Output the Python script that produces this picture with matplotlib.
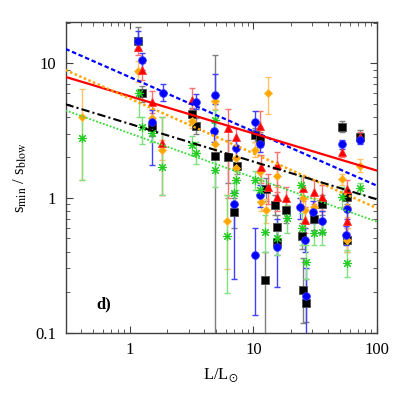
import numpy as np
import matplotlib
matplotlib.use("Agg")
import matplotlib.pyplot as plt
from matplotlib.ticker import LogLocator, NullFormatter, FixedLocator, FixedFormatter

plt.rcParams['font.family'] = ['Liberation Serif', 'DejaVu Serif']
plt.rcParams['mathtext.fontset'] = 'stix'

# ---------------- data (L/Lsun, s_min/s_blow, lower bar end, upper bar end) -------------
blue_L  = [1.15, 1.24, 1.5, 1.84, 3.4, 4.9, 4.8, 6.9, 7.2, 10.3, 11.2, 11.3, 10.3, 15.4, 23.8, 26.5, 26.0, 30.5, 35.7, 52, 56, 57, 73]
blue_s  = [14.8, 10.6, 3.69, 6.07, 5.2, 5.83, 3.16, 0.9, 2.37, 3.69, 2.52, 1.05, 0.377, 0.434, 0.86, 0.187, 0.49, 0.79, 0.67, 2.5, 0.53, 0.83, 2.7]
blue_lo = [12.5, 9.0, 1.76, 5.3, 4.6, 5.0, 2.6, 0.25, 2.0, 3.2, 2.2, 0.85, 0.135, 0.218, 0.7, 0.05, 0.4, 0.65, 0.55, 2.3, 0.45, 0.7, 2.5]
blue_hi = [17.5, 12.0, 4.5, 7.0, 5.9, 8.4, 3.7, 1.1, 2.7, 4.4, 2.9, 1.25, 0.6, 0.7, 1.0, 0.3, 0.6, 0.95, 0.8, 2.7, 0.62, 0.97, 2.9]

red_L  = [1.15, 1.24, 1.5, 1.8, 3.16, 6.25, 7.2, 11.2, 11.5, 15.5, 13.2, 15.4, 18.3, 25, 26, 31, 35.7, 52, 57, 57, 73]
red_s  = [13.3, 8.96, 5.2, 2.55, 5.35, 3.3, 2.86, 3.45, 1.71, 1.76, 1.2, 1.02, 1.0, 1.18, 0.69, 1.11, 1.01, 2.21, 1.16, 0.67, 2.86]
red_lo = [11.5, 7.5, 4.3, 1.05, 4.6, 1.0, 2.3, 3.0, 1.3, 1.1, 0.9, 0.8, 0.8, 0.95, 0.55, 0.9, 0.8, 2.0, 1.0, 0.55, 2.6]
red_hi = [15.5, 10.0, 6.2, 4.0, 6.6, 4.6, 3.3, 4.4, 2.1, 2.2, 1.5, 1.25, 1.2, 1.45, 0.85, 1.35, 1.25, 2.5, 1.35, 0.8, 3.1]

orange_L  = [0.41, 1.15, 1.5, 1.8, 3.16, 4.9, 4.85, 6.1, 7.2, 7.2, 10.3, 11.2, 13.2, 15.5, 11.5, 12.6, 25, 26, 31, 35.7, 52, 57, 57, 73]
orange_s  = [4.02, 8.84, 3.91, 2.27, 3.76, 5.28, 2.52, 0.67, 1.66, 1.98, 2.27, 1.57, 6.06, 1.46, 0.94, 0.81, 1.0, 0.81, 0.85, 0.67, 1.38, 0.86, 0.49, 1.74]
orange_lo = [1.36, 7.3, 3.3, 1.9, 3.3, 4.6, 2.1, 0.295, 1.4, 1.7, 2.0, 1.35, 4.18, 1.2, 0.8, 0.65, 0.85, 0.65, 0.7, 0.55, 1.25, 0.72, 0.4, 1.55]
orange_hi = [6.5, 10.5, 4.6, 2.7, 4.3, 6.0, 3.0, 1.05, 1.95, 2.3, 2.6, 1.8, 7.9, 1.75, 1.1, 0.98, 1.2, 0.98, 1.0, 0.8, 1.5, 1.0, 0.6, 1.95]

black_L  = [1.15, 1.24, 1.5, 3.16, 3.4, 4.9, 6.25, 6.9, 7.3, 10.3, 11.2, 12.6, 12.3, 15.4, 15.4, 15.0, 18.3, 24.7, 25, 26.5, 31, 35.7, 52, 57, 57, 73]
black_s  = [14.8, 6.0, 3.36, 4.2, 3.43, 2.05, 2.03, 0.79, 1.74, 2.94, 2.74, 1.16, 0.246, 0.61, 0.474, 0.89, 0.81, 0.52, 0.207, 0.167, 0.7, 0.9, 3.39, 1.02, 0.49, 2.86]
black_lo = [12.5, 5.2, 2.9, 3.7, 3.0, 0.05, 1.3, 0.6, 1.5, 2.6, 2.4, 0.95, 0.05, 0.5, 0.38, 0.75, 0.65, 0.42, 0.117, 0.12, 0.58, 0.75, 3.1, 0.9, 0.4, 2.6]
black_hi = [18.8, 6.8, 3.9, 4.7, 3.9, 11.6, 2.7, 1.0, 2.0, 3.3, 3.1, 1.4, 0.4, 0.75, 0.58, 1.05, 1.0, 0.65, 0.36, 0.25, 0.85, 1.05, 3.75, 1.15, 0.6, 3.2]

green_L  = [0.41, 1.19, 1.24, 1.5, 1.8, 3.16, 3.4, 4.9, 4.9, 6.1, 6.9, 7.2, 10.3, 11.2, 12.4, 15.5, 18.6, 24.5, 24.7, 26.5, 31, 35.7, 52, 57, 73]
green_s  = [2.78, 6.0, 3.36, 3.02, 1.71, 2.48, 2.17, 1.61, 3.8, 0.52, 1.08, 1.36, 1.36, 1.15, 0.56, 0.5, 0.71, 1.25, 0.6, 0.336, 0.55, 0.56, 1.01, 0.33, 1.18]
green_lo = [1.36, 4.0, 2.5, 2.6, 1.05, 2.1, 1.8, 1.2, 3.2, 0.196, 0.9, 1.15, 1.15, 0.95, 0.4, 0.38, 0.55, 1.05, 0.45, 0.25, 0.45, 0.45, 0.85, 0.26, 1.07]
green_hi = [4.0, 6.5, 4.0, 3.5, 4.0, 2.9, 2.6, 2.0, 4.5, 1.05, 1.3, 1.6, 1.6, 1.4, 0.75, 0.65, 0.88, 1.45, 0.78, 0.45, 0.68, 0.7, 1.2, 0.41, 1.3]

# power-law fits: s = A * L**b
fit_A = {'blue': 7.9, 'red': 5.7, 'orange': 5.48, 'black': 3.55, 'green': 3.02}
fit_b = {'blue': -0.403, 'red': -0.276, 'orange': -0.407, 'black': -0.28, 'green': -0.328}

x_ticks = [1, 10, 100]
x_tick_labels = ['1', '10', '100']
y_ticks = [0.1, 1, 10]
y_tick_labels = ['0.1', '1', '10']

# ---------------- figure ----------------
fig = plt.figure(figsize=(4.07, 4.07), dpi=100)
ax = fig.add_axes([0.161, 0.183, 0.765, 0.762])
ax.set_xscale('log')
ax.set_yscale('log')
ax.set_xlim(0.3, 100)
ax.set_ylim(0.1, 20.2)

series = [
    ('black',  black_L,  black_s,  black_lo,  black_hi,  dict(marker='s', ms=5.5, mfc='black', mec='#505050', mew=0.6), '#7f7f7f'),
    ('orange', orange_L, orange_s, orange_lo, orange_hi, dict(marker='D', ms=4.2, mfc='#ffa500', mec='#ffb833', mew=0.6), '#ffc266'),
    ('red',    red_L,    red_s,    red_lo,    red_hi,    dict(marker='^', ms=5.5, mfc='#ff0000', mec='#ff3030', mew=0.6), '#ff7070'),
    ('blue',   blue_L,   blue_s,   blue_lo,   blue_hi,   dict(marker='o', ms=5.5, mfc='#0000ff', mec='#3030ff', mew=0.6), '#4040ff'),
    ('green',  green_L,  green_s,  green_lo,  green_hi,  dict(marker=(8, 2, 0), ms=6.5, mfc='#22cc22', mec='#22cc22', mew=0.8), '#80e080'),
]
for name, L, s, lo, hi, mk, ecol in series:
    L = np.array(L); s = np.array(s); lo = np.array(lo); hi = np.array(hi)
    ax.errorbar(L, s, yerr=[s - lo, hi - s], fmt='none', ecolor=ecol, elinewidth=1.0,
                capsize=2.2, capthick=1.0, zorder=2)
    ax.plot(L, s, linestyle='none', zorder=3, **mk)

xx = np.logspace(np.log10(0.3), 2, 200)
ax.plot(xx, fit_A['blue'] * xx ** fit_b['blue'], color='#0000ff', lw=1.6, ls=(0, (2, 1.2)), zorder=4)
ax.plot(xx, fit_A['red'] * xx ** fit_b['red'], color='#ff0000', lw=1.6, ls='-', zorder=4)
ax.plot(xx, fit_A['orange'] * xx ** fit_b['orange'], color='#ffa500', lw=1.8, ls=(0, (1, 1)), zorder=4)
ax.plot(xx, fit_A['black'] * xx ** fit_b['black'], color='black', lw=1.5, ls=(0, (4, 1.5, 1, 1.5)), zorder=4)
ax.plot(xx, fit_A['green'] * xx ** fit_b['green'], color='#33dd33', lw=1.3, ls=(0, (1, 1)), zorder=4)

# ticks
ax.xaxis.set_major_locator(FixedLocator(x_ticks))
ax.xaxis.set_major_formatter(FixedFormatter(x_tick_labels))
ax.yaxis.set_major_locator(FixedLocator(y_ticks))
ax.yaxis.set_major_formatter(FixedFormatter(y_tick_labels))
ax.xaxis.set_minor_locator(LogLocator(base=10, subs=np.arange(2, 10), numticks=20))
ax.yaxis.set_minor_locator(LogLocator(base=10, subs=np.arange(2, 10), numticks=20))
ax.xaxis.set_minor_formatter(NullFormatter())
ax.yaxis.set_minor_formatter(NullFormatter())
ax.tick_params(which='both', direction='in', top=True, right=True, labelsize=12, color='#404040')
ax.tick_params(which='major', length=5, width=0.8, pad=7)
ax.tick_params(which='minor', length=3, width=0.6)
for sp in ax.spines.values():
    sp.set_color('#404040')
    sp.set_linewidth(1.0)

ax.set_xlabel(r'L/L$_{\odot}$', fontsize=12, labelpad=6)
ax.set_ylabel(r's$_{\mathrm{min}}$ / s$_{\mathrm{blow}}$', fontsize=12, labelpad=4)
ax.text(0.10, 0.092, 'd)', transform=ax.transAxes, fontsize=12, fontweight='bold',
        va='center', ha='left')

fig.savefig('out.png', dpi=100)
